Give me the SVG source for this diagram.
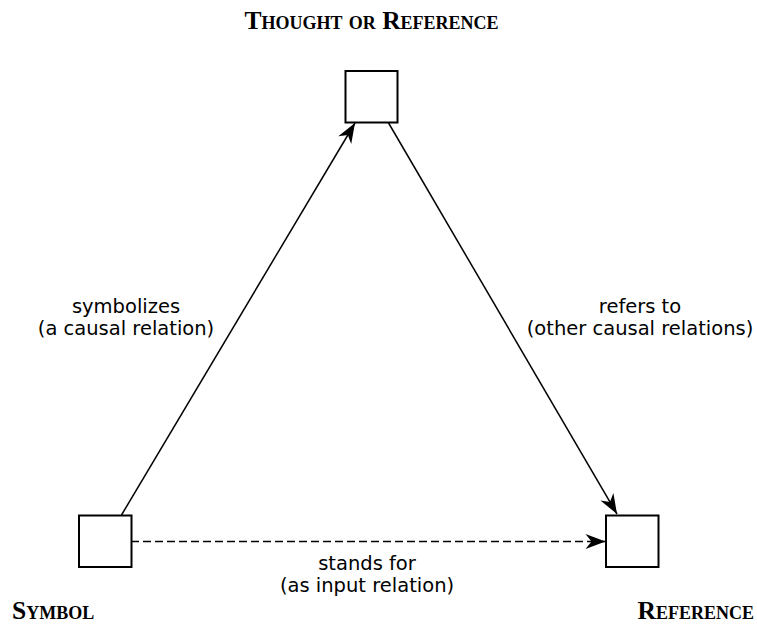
<svg xmlns="http://www.w3.org/2000/svg" width="757" height="624" viewBox="0 0 757 624">
  <style>
    .box { fill: #ffffff; stroke: #000000; stroke-width: 2; }
    .edge { fill: none; stroke: #000000; stroke-width: 1.5; }
    .dash { stroke-dasharray: 8 4; }
    .lbl { font-family: "DejaVu Sans", "Liberation Sans", sans-serif; font-size: 19.5px; fill: #000000; text-anchor: middle; }
    .title { font-family: "Liberation Serif", "DejaVu Serif", serif; font-size: 25.5px; font-weight: bold; font-variant: small-caps; fill: #000000; }
  </style>
  <defs>
    <marker id="arrow" viewBox="-21 -9 22 18" refX="0" refY="0" markerWidth="22" markerHeight="18" markerUnits="userSpaceOnUse" orient="auto">
      <path d="M0,0 L-20,-7.5 L-14,0 L-20,7.5 Z" fill="#000000"/>
    </marker>
  </defs>

  <rect width="757" height="624" fill="#ffffff"/>

  <g id="connectors">
    <line class="edge" x1="121.5" y1="515" x2="355" y2="123" marker-end="url(#arrow)"/>
    <line class="edge" x1="388" y1="122" x2="617" y2="514" marker-end="url(#arrow)"/>
    <line class="edge dash" x1="131" y1="541.5" x2="605.5" y2="541.5" marker-end="url(#arrow)"/>
    <text class="lbl" x="126" y="313">symbolizes</text>
    <text class="lbl" x="126" y="335">(a causal relation)</text>
    <text class="lbl" x="640" y="313">refers to</text>
    <text class="lbl" x="640" y="335">(other causal relations)</text>
    <text class="lbl" x="367" y="570">stands for</text>
    <text class="lbl" x="367" y="592">(as input relation)</text>
  </g>

  <g id="thought">
    <rect class="box" x="345.5" y="71" width="52" height="51.5"/>
    <text class="title" x="371.5" y="29" text-anchor="middle">Thought or Reference</text>
  </g>

  <g id="symbol">
    <rect class="box" x="79" y="515.5" width="52.5" height="51.5"/>
    <text class="title" x="12" y="619" text-anchor="start">Symbol</text>
  </g>

  <g id="referent">
    <rect class="box" x="606" y="515.5" width="52.5" height="51.5"/>
    <text class="title" x="754" y="619" text-anchor="end">Reference</text>
  </g>
</svg>
